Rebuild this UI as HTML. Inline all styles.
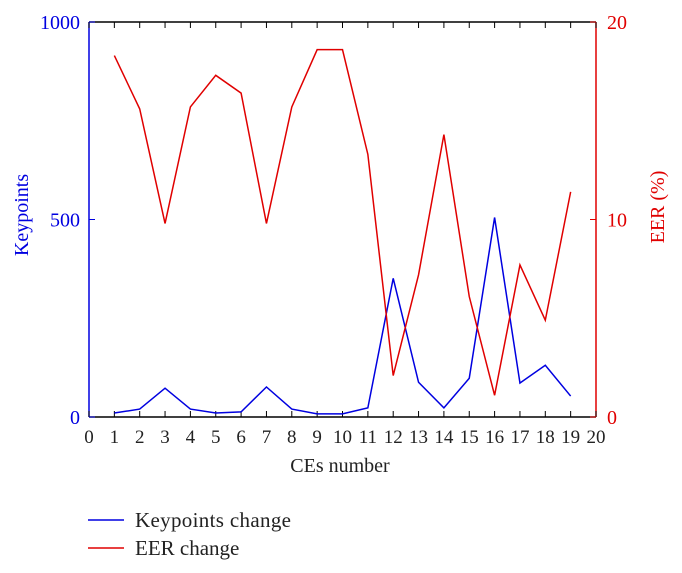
<!DOCTYPE html>
<html><head><meta charset="utf-8"><style>
body{margin:0;background:#fff;}
svg{display:block;font-family:"Liberation Serif",serif;}
</style></head><body>
<svg id="c" width="682" height="573" xmlns="http://www.w3.org/2000/svg"></svg>
<script>
const categories=[1,2,3,4,5,6,7,8,9,10,11,12,13,14,15,16,17,18,19];
const keypoints=[10,20,73,20,10,13,76,20,8,8,23,351,88,23,98,505,86,131,53];
const eer=[18.3,15.6,9.8,15.7,17.3,16.4,9.8,15.7,18.6,18.6,13.3,2.1,7.2,14.3,6.1,1.1,7.7,4.9,11.4];
const xTicks=[0,1,2,3,4,5,6,7,8,9,10,11,12,13,14,15,16,17,18,19,20];
const leftTicks=[0,500,1000];
const rightTicks=[0,10,20];
const NS="http://www.w3.org/2000/svg";
const svg=document.getElementById('c');
const L=89,R=596,T=22,B=417;
const x=v=>L+(v-0)/20*(R-L);
const yl=v=>B-v/1000*(B-T);
const yr=v=>B-v/20*(B-T);
function mk(t,a,txt){const e=document.createElementNS(NS,t);for(const k in a)e.setAttribute(k,a[k]);if(txt!=null)e.textContent=txt;svg.appendChild(e);return e;}
let e;
e=mk('line',{x1:L,y1:B,x2:R,y2:B,stroke:'#000','stroke-width':1.5});


e=mk('line',{x1:L,y1:T,x2:R,y2:T,stroke:'#000','stroke-width':1.5});


e=mk('line',{x1:L,y1:T,x2:L,y2:B,stroke:'#0000e0','stroke-width':1.5});


e=mk('line',{x1:R,y1:T,x2:R,y2:B,stroke:'#e00000','stroke-width':1.5});


xTicks.forEach(v=>{
  e=mk('line',{x1:x(v),y1:B,x2:x(v),y2:B-6,stroke:'#000','stroke-width':1});
  
  
  e=mk('line',{x1:x(v),y1:T,x2:x(v),y2:T+6,stroke:'#000','stroke-width':1});
  
  
  e=mk('text',{x:x(v),y:B+26,'text-anchor':'middle','font-size':19,fill:'#222'},v);
  
  
});
leftTicks.forEach(v=>{
  e=mk('line',{x1:L,y1:yl(v),x2:L+6,y2:yl(v),stroke:'#0000e0'});
  
  
  e=mk('text',{x:L-9,y:yl(v)+7,'text-anchor':'end','font-size':20,fill:'#0000e0'},v);
  
  
});
rightTicks.forEach(v=>{
  e=mk('line',{x1:R,y1:yr(v),x2:R-6,y2:yr(v),stroke:'#e00000'});
  
  
  e=mk('text',{x:R+11,y:yr(v)+7,'text-anchor':'start','font-size':20,fill:'#e00000'},v);
  
  
});
e=mk('text',{x:340,y:472,'text-anchor':'middle','font-size':20,fill:'#222'},'CEs number');


e=mk('text',{x:0,y:0,'text-anchor':'middle','font-size':20,fill:'#0000e0',transform:'translate(28,215) rotate(-90)'},'Keypoints');


e=mk('text',{x:0,y:0,'text-anchor':'middle','font-size':20,fill:'#e00000',transform:'translate(664,207) rotate(-90)'},'EER (%)');


e=mk('polyline',{points:categories.map((c,i)=>x(c)+','+yl(keypoints[i])).join(' '),fill:'none',stroke:'#0000e0','stroke-width':1.5});


e=mk('polyline',{points:categories.map((c,i)=>x(c)+','+yr(eer[i])).join(' '),fill:'none',stroke:'#e00000','stroke-width':1.5});


e=mk('line',{x1:88,y1:520,x2:124,y2:520,stroke:'#0000e0','stroke-width':1.5});


e=mk('text',{x:135,y:527,'font-size':21,fill:'#222',textLength:156},'Keypoints change');


e=mk('line',{x1:88,y1:548,x2:124,y2:548,stroke:'#e00000','stroke-width':1.5});


e=mk('text',{x:135,y:555,'font-size':21,fill:'#222'},'EER change');


</script>
</body></html>
